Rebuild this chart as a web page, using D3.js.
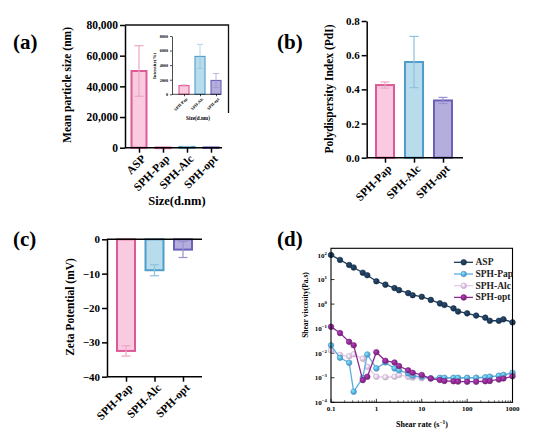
<!DOCTYPE html>
<meta charset="utf-8">
<style>
body { margin: 0; background: #fff; }
svg { font-family: "Liberation Serif", "Times New Roman", serif; font-weight: bold; }
</style>
<body>
<svg id="fig" width="550" height="438"></svg>
<script src="https://cdn.jsdelivr.net/npm/d3@7"></script>
<script>
// ---- (a) mean particle size ----
var sizeCats = ["ASP", "SPH-Pap", "SPH-Alc", "SPH-opt"];
var sizeMean = [50000, 120, 520, 190];
var sizeErr = [16500, 20, 150, 90];
var sizeTicks = [0, 20000, 40000, 60000, 80000];
// inset of (a)
var insetCats = ["SPH-Pap", "SPH-Alc", "SPH-opt"];
var insetMean = [1200, 5200, 1900];
var insetErr = [100, 1650, 950];
var insetTicks = [0, 2000, 4000, 6000, 8000];
// ---- (b) PdI ----
var pdiCats = ["SPH-Pap", "SPH-Alc", "SPH-opt"];
var pdiMean = [0.425, 0.56, 0.335];
var pdiErr = [0.018, 0.15, 0.018];
var pdiTicks = [0, 0.2, 0.4, 0.6, 0.8];
// ---- (c) zeta potential ----
var zetaCats = ["SPH-Pap", "SPH-Alc", "SPH-opt"];
var zetaMean = [-32.5, -9, -3];
var zetaErr = [1.5, 1.6, 2.3];
var zetaTicks = [-40, -30, -20, -10, 0];
// ---- (d) shear viscosity ----
var shearRate = [0.1, 0.158, 0.251, 0.316, 0.501, 0.631, 1, 1.58, 2.51, 3.16, 5.01, 6.31,
  10, 15.8, 25.1, 31.6, 50.1, 63.1, 100, 158, 251, 316, 501, 631, 1000];
var viscASP = [100, 63, 39, 31, 19, 15, 8.5, 6.2, 4.5, 3.7, 2.8, 2.3,
  2.0, 1.48, 1.07, 0.92, 0.67, 0.5, 0.42, 0.34, 0.28, 0.21, 0.21, 0.24, 0.18];
var viscPap = [0.021, 0.0065, 0.0041, 0.00027, 0.001, 0.0089, 0.0024, 0.0042, 0.0024, 0.002, 0.0015, 0.0012,
  0.0011, 0.00095, 0.001, 0.001, 0.001, 0.001, 0.001, 0.001, 0.00105, 0.0011, 0.0012, 0.0013, 0.0016];
var viscAlc = [0.013, 0.0085, 0.0075, 0.009, 0.006, 0.0028, 0.0011, 0.00105, 0.0011, 0.0013, 0.0011, 0.001,
  0.00095, 0.00095, 0.00092, 0.00092, 0.00095, 0.00095, 0.00098, 0.001, 0.001, 0.0011, 0.0012, 0.0013, 0.0014];
var viscOpt = [0.12, 0.066, 0.029, 0.021, 0.0008, 0.0011, 0.011, 0.0049, 0.0042, 0.003, 0.002, 0.0016,
  0.0013, 0.00093, 0.00081, 0.00074, 0.00072, 0.0007, 0.00069, 0.00069, 0.00072, 0.00074, 0.00085, 0.00093, 0.00115];
var seriesNames = ["ASP", "SPH-Pap", "SPH-Alc", "SPH-opt"];

var pal = {
  pink:   { fill: "#f9cae0", stroke: "#dc5a97", err: "#eea6c7" },
  blue:   { fill: "#b9dcec", stroke: "#4e9ec9", err: "#8cc2dd" },
  purple: { fill: "#b3aedc", stroke: "#6b61b8", err: "#9a92d0" }
};
var catColor = { "ASP": pal.pink, "SPH-Pap": pal.pink, "SPH-Alc": pal.blue, "SPH-opt": pal.purple };
var lineColor = { "ASP": "#1d3a58", "SPH-Pap": "#5aaee0", "SPH-Alc": "#e6caea", "SPH-opt": "#8c2a90" };

var svg = d3.select("#fig");

function panelTag(txt, x, y) {
  svg.append("text").attr("x", x).attr("y", y).attr("font-size", 21).text(txt);
}

function yTitle(txt, x, y, fs) {
  svg.append("text").attr("transform", "translate(" + x + "," + y + ") rotate(-90)")
    .attr("text-anchor", "middle").attr("font-size", fs).text(txt);
}

// bars + error bars
function drawBars(g, cats, means, errs, x, y, bw, capW, sw) {
  cats.forEach(function(c, i) {
    var col = catColor[c], cx = x(c);
    var y0 = y(0), y1 = y(means[i]);
    g.append("rect").attr("x", cx - bw / 2).attr("y", Math.min(y0, y1))
      .attr("width", bw).attr("height", Math.max(Math.abs(y0 - y1), 0.6))
      .attr("fill", col.fill).attr("stroke", col.stroke).attr("stroke-width", sw);
    var lo = y(means[i] - errs[i]), hi = y(means[i] + errs[i]);
    var e = g.append("g").attr("stroke", col.err).attr("stroke-width", sw * 0.6);
    e.append("line").attr("x1", cx).attr("x2", cx).attr("y1", lo).attr("y2", hi);
    e.append("line").attr("x1", cx - capW / 2).attr("x2", cx + capW / 2).attr("y1", lo).attr("y2", lo);
    e.append("line").attr("x1", cx - capW / 2).attr("x2", cx + capW / 2).attr("y1", hi).attr("y2", hi);
  });
}

function leftAxis(g, y, ticks, xPos, fmt, fs, tick, sw) {
  var ax = g.append("g").attr("transform", "translate(" + xPos + ",0)")
    .call(d3.axisLeft(y).tickValues(ticks).tickFormat(fmt).tickSize(tick).tickSizeOuter(0).tickPadding(2));
  ax.select(".domain").attr("stroke-width", sw);
  ax.selectAll(".tick line").attr("stroke-width", sw);
  ax.selectAll("text").attr("font-size", fs);
  ax.attr("font-family", null);
  return ax;
}

function bottomAxis(g, x, yPos, x0, x1, fs, tick, sw, off) {
  var ax = g.append("g").attr("transform", "translate(0," + yPos + ")")
    .call(d3.axisBottom(x).tickSize(tick).tickSizeOuter(0));
  ax.select(".domain").remove();
  ax.append("line").attr("x1", x0).attr("x2", x1).attr("stroke", "#000").attr("stroke-width", sw);
  ax.selectAll(".tick line").attr("stroke-width", sw);
  ax.selectAll("text").attr("font-size", fs).attr("y", 0).attr("dy", "0.35em")
    .attr("text-anchor", "end")
    .attr("transform", "translate(" + off[0] + "," + off[1] + ") rotate(-45)");
  ax.attr("font-family", null);
  return ax;
}

// ================= (a) =================
panelTag("(a)", 13, 49);
var gA = svg.append("g");
var yA = d3.scaleLinear().domain([0, 80000]).range([147.7, 25]);
var xA = d3.scalePoint().domain(sizeCats).range([127, 223]).padding(0.5);
drawBars(gA, sizeCats, sizeMean, sizeErr, xA, yA, 15, 9, 2);
leftAxis(gA, yA, sizeTicks, 125, d3.format(","), 11.5, 5, 1.5);
bottomAxis(gA, xA, 147.7, 125, 222, 11.5, 5, 1.5, [4, 9]);
yTitle("Mean particle size (nm)", 71, 85, 11.5);
svg.append("text").attr("x", 177).attr("y", 205).attr("text-anchor", "middle")
  .attr("font-size", 12.5).text("Size(d.nm)");

// inset
var gI = svg.append("g");
gI.append("polyline").attr("points", "125,25 228.5,25 228.5,113")
  .attr("fill", "none").attr("stroke", "#111").attr("stroke-width", 1.3);
var yI = d3.scaleLinear().domain([0, 8000]).range([94.3, 36]);
var xI = d3.scalePoint().domain(insetCats).range([176, 224]).padding(0.5);
drawBars(gI, insetCats, insetMean, insetErr, xI, yI, 10, 6, 1.1);
leftAxis(gI, yI, insetTicks, 172, d3.format("d"), 4.2, 2, 0.7);
bottomAxis(gI, xI, 94.3, 172, 221, 4.2, 2, 0.7, [2, 4]);
yTitle("Intensity(%)", 156, 66, 4.8);
gI.append("text").attr("x", 198).attr("y", 119.5).attr("text-anchor", "middle")
  .attr("font-size", 5.2).text("Size(d.nm)");

// ================= (b) =================
panelTag("(b)", 277, 49);
var gB = svg.append("g");
var yB = d3.scaleLinear().domain([0, 0.8]).range([157.7, 21]);
var xB = d3.scalePoint().domain(pdiCats).range([370.5, 457.5]).padding(0.5);
drawBars(gB, pdiCats, pdiMean, pdiErr, xB, yB, 18, 9, 2);
leftAxis(gB, yB, pdiTicks, 366.7, d3.format(".1f"), 11, 5, 1.5);
bottomAxis(gB, xB, 157.7, 366.7, 463, 11.5, 5, 1.5, [4, 9]);
yTitle("Polydispersity Index (PdI)", 333, 89, 11.5);

// ================= (c) =================
panelTag("(c)", 13, 246);
var gC = svg.append("g");
var yC = d3.scaleLinear().domain([-40, 0]).range([376.7, 239.3]);
var xC = d3.scalePoint().domain(zetaCats).range([111.75, 197.25]).padding(0.5);
drawBars(gC, zetaCats, zetaMean, zetaErr, xC, yC, 18, 9, 2);
leftAxis(gC, yC, zetaTicks, 107, d3.format("d"), 11, 5, 1.5);
gC.append("line").attr("x1", 107).attr("x2", 202).attr("y1", yC(0)).attr("y2", yC(0))
  .attr("stroke", "#000").attr("stroke-width", 1.5);
bottomAxis(gC, xC, 376.7, 107, 202, 11.5, 5, 1.5, [4, 9]);
yTitle("Zeta Potential (mV)", 74, 307, 11.5);

// ================= (d) =================
panelTag("(d)", 277, 246);
var gD = svg.append("g");
var L = 331, R = 512.5, T = 248.3, B = 402.3;
var xD = d3.scaleLog().domain([0.1, 1000]).range([L, R]);
var yD = d3.scaleLog().domain([1e-4, Math.pow(10, 2 + 6.7 / 24.55)]).range([B, T]);

var defs = svg.append("defs");
seriesNames.forEach(function(s, i) {
  var c = d3.color(lineColor[s]);
  var gr = defs.append("radialGradient").attr("id", "ball" + i)
    .attr("cx", "35%").attr("cy", "35%").attr("r", "65%");
  gr.append("stop").attr("offset", "0%").attr("stop-color", c.brighter(0.9));
  gr.append("stop").attr("offset", "60%").attr("stop-color", c);
  gr.append("stop").attr("offset", "100%").attr("stop-color", c.darker(0.4));
});

// ticks
var majX = [0.1, 1, 10, 100, 1000];
var minX = [];
[0.1, 1, 10, 100].forEach(function(d) { for (var k = 2; k < 10; k++) minX.push(d * k); });
var majY = [1e-4, 1e-3, 1e-2, 1e-1, 1, 10, 100];
gD.selectAll(".mx").data(majX).enter().append("line")
  .attr("x1", xD).attr("x2", xD).attr("y1", B).attr("y2", B - 3.5)
  .attr("stroke", "#000").attr("stroke-width", 0.8);
gD.selectAll(".nx").data(minX).enter().append("line")
  .attr("x1", xD).attr("x2", xD).attr("y1", B).attr("y2", B - 2)
  .attr("stroke", "#000").attr("stroke-width", 0.6);
gD.selectAll(".my").data(majY).enter().append("line")
  .attr("x1", L).attr("x2", L + 3.5).attr("y1", yD).attr("y2", yD)
  .attr("stroke", "#000").attr("stroke-width", 0.8);
gD.selectAll(".xl").data(majX).enter().append("text")
  .attr("x", xD).attr("y", B + 9).attr("text-anchor", "middle").attr("font-size", 7)
  .text(function(d) { return d3.format("~g")(d); });
var yl = gD.selectAll(".yl").data(majY).enter().append("text")
  .attr("x", L - 4).attr("y", function(d) { return yD(d) + 2.5; })
  .attr("text-anchor", "end").attr("font-size", 7).text("10");
yl.append("tspan").attr("dy", -3).attr("font-size", 4.8)
  .text(function(d) { var e = Math.round(Math.log10(d)); return e < 0 ? "\u2212" + (-e) : e; });

// series
var allVisc = [viscASP, viscPap, viscAlc, viscOpt];
var line = d3.line().x(function(d) { return xD(d[0]); }).y(function(d) { return yD(d[1]); });
[2, 1, 3, 0].forEach(function(i) {
  var s = seriesNames[i];
  var pts = shearRate.map(function(r, j) { return [r, allVisc[i][j]]; });
  gD.append("path").datum(pts).attr("d", line).attr("fill", "none")
    .attr("stroke", lineColor[s]).attr("stroke-width", 1.3);
  gD.selectAll(".p" + i).data(pts).enter().append("circle")
    .attr("cx", function(d) { return xD(d[0]); }).attr("cy", function(d) { return yD(d[1]); })
    .attr("r", 2.8).attr("fill", "url(#ball" + i + ")")
    .attr("stroke", d3.color(lineColor[s]).darker(0.5)).attr("stroke-width", 0.6);
});

gD.append("rect").attr("x", L).attr("y", T).attr("width", R - L).attr("height", B - T)
  .attr("fill", "none").attr("stroke", "#000").attr("stroke-width", 1.1);

// legend
seriesNames.forEach(function(s, i) {
  var ly = 262.3 + i * 11.7;
  gD.append("line").attr("x1", 454).attr("x2", 473).attr("y1", ly).attr("y2", ly)
    .attr("stroke", lineColor[s]).attr("stroke-width", 1.3);
  gD.append("circle").attr("cx", 463.7).attr("cy", ly).attr("r", 2.8)
    .attr("fill", "url(#ball" + i + ")").attr("stroke", d3.color(lineColor[s]).darker(0.5)).attr("stroke-width", 0.6);
  gD.append("text").attr("x", 475.5).attr("y", ly + 3).attr("font-size", 9.5)
    .attr("fill", "#222").text(s);
});

yTitle("Shear viscosity(Pa.s)", 308, 305, 7.5);
var xt = gD.append("text").attr("x", 422).attr("y", 427).attr("text-anchor", "middle")
  .attr("font-size", 8).text("Shear rate (s");
xt.append("tspan").attr("dy", -3).attr("font-size", 5.5).text("\u22121");
xt.append("tspan").attr("dy", 3).text(")");
</script>
</body>
